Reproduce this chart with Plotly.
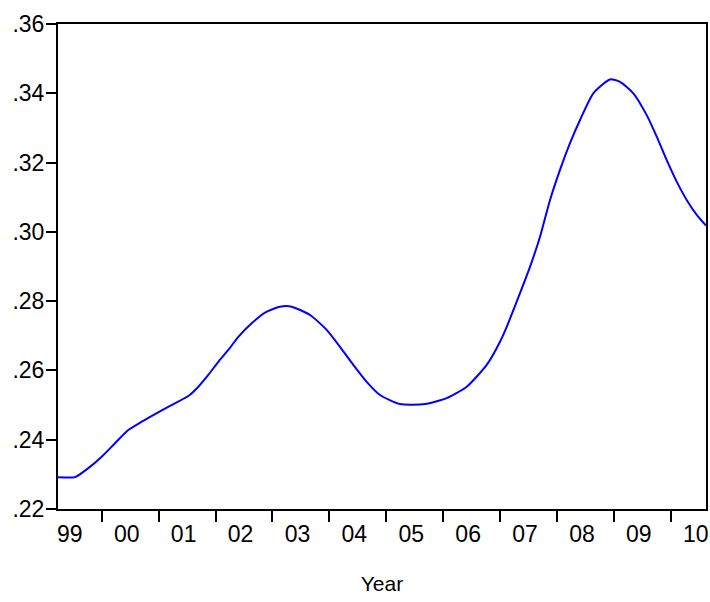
import plotly.graph_objects as go

# Data (fractional year, value)
years = [1999.232, 1999.531, 1999.765, 2000.000, 2000.234, 2000.467, 2000.703, 2000.937,
         2001.170, 2001.522, 2001.698, 2001.873, 2002.049, 2002.225, 2002.401, 2002.636,
         2002.870, 2003.134, 2003.339, 2003.661, 2003.954, 2004.188, 2004.422, 2004.657,
         2004.891, 2005.243, 2005.682, 2006.063, 2006.415, 2006.766, 2007.000, 2007.118,
         2007.351, 2007.527, 2007.703, 2007.879, 2008.054, 2008.230, 2008.406, 2008.640,
         2008.933, 2009.109, 2009.343, 2009.578, 2009.754, 2009.930, 2010.105, 2010.281,
         2010.457, 2010.620]
values = [0.2292, 0.2292, 0.2318, 0.2351, 0.2390, 0.2428, 0.2452, 0.2474,
          0.2495, 0.2526, 0.2553, 0.2587, 0.2625, 0.2659, 0.2697, 0.2736,
          0.2767, 0.2784, 0.2784, 0.2760, 0.2717, 0.2668, 0.2616, 0.2567,
          0.2529, 0.2503, 0.2503, 0.2520, 0.2553, 0.2616, 0.2683, 0.2726,
          0.2823, 0.2899, 0.2986, 0.3092, 0.3179, 0.3256, 0.3323, 0.3400,
          0.3440, 0.3433, 0.3400, 0.3337, 0.3275, 0.3207, 0.3145, 0.3092,
          0.3049, 0.3018]

year_starts = list(range(2000, 2011))
year_labels = ["99", "00", "01", "02", "03", "04", "05", "06", "07", "08", "09", "10"]
label_years = list(range(1999, 2011))
y_ticks = [0.22, 0.24, 0.26, 0.28, 0.30, 0.32, 0.34, 0.36]
y_ticktext = [".22", ".24", ".26", ".28", ".30", ".32", ".34", ".36"]

FONT = "Liberation Sans, Arial, sans-serif"

fig = go.Figure()
fig.add_trace(go.Scatter(
    x=years, y=values, mode="lines",
    line=dict(color="#0000FF", width=2, shape="spline", smoothing=0.6),
    showlegend=False, hoverinfo="skip",
))

fig.update_layout(
    width=710, height=602,
    margin=dict(l=58, r=4, t=24, b=93),
    paper_bgcolor="white", plot_bgcolor="white",
    font=dict(family=FONT, size=23, color="black"),
    xaxis=dict(
        range=[1999.232, 2010.62],
        automargin=False,
        tickmode="array",
        tickvals=[y + 0.44 for y in label_years],
        ticktext=year_labels,
        ticks="outside", ticklen=3, tickcolor="rgba(0,0,0,0)",
        showgrid=False, zeroline=False,
        showline=True, linecolor="black", linewidth=2, mirror=True,
        minor=dict(tickmode="array", tickvals=year_starts, ticks="outside",
                   ticklen=11, tickwidth=2, tickcolor="black", showgrid=False),
        title=dict(text="Year", font=dict(family=FONT, size=21), standoff=31),
        tickfont=dict(family=FONT, size=23),
    ),
    yaxis=dict(
        range=[0.22, 0.36],
        automargin=False,
        tickmode="array", tickvals=y_ticks, ticktext=y_ticktext,
        ticks="outside", ticklen=10, tickwidth=2, tickcolor="black",
        ticklabelstandoff=-3,
        showgrid=False, zeroline=False,
        showline=True, linecolor="black", linewidth=2, mirror=True,
        tickfont=dict(family=FONT, size=23),
    ),
)

fig.write_html(
    "out.html",
    config={"displayModeBar": False, "staticPlot": True},
    post_script="document.body.style.margin='0';document.body.style.padding='0';",
)
